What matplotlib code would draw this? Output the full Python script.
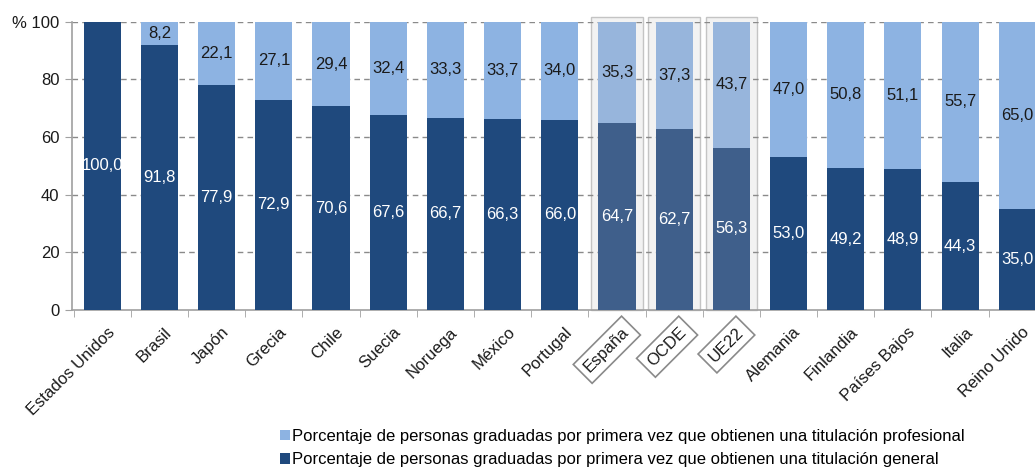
import matplotlib
matplotlib.use("Agg")
import matplotlib.pyplot as plt
from matplotlib.patches import Rectangle, Patch

plt.rcParams['font.family'] = ['Liberation Sans', 'DejaVu Sans']

categories = ["Estados Unidos", "Brasil", "Japón", "Grecia", "Chile", "Suecia", "Noruega",
              "México", "Portugal", "España", "OCDE", "UE22", "Alemania", "Finlandia",
              "Países Bajos", "Italia", "Reino Unido"]
general = [100.0, 91.8, 77.9, 72.9, 70.6, 67.6, 66.7, 66.3, 66.0, 64.7, 62.7, 56.3,
           53.0, 49.2, 48.9, 44.3, 35.0]
profesional = [0.0, 8.2, 22.1, 27.1, 29.4, 32.4, 33.3, 33.7, 34.0, 35.3, 37.3, 43.7,
               47.0, 50.8, 51.1, 55.7, 65.0]
highlight = ["España", "OCDE", "UE22"]
yticks = [0, 20, 40, 60, 80, 100]
yticklabels = ["0", "20", "40", "60", "80", "% 100"]
legend_labels = ["Porcentaje de personas graduadas por primera vez que obtienen una titulación profesional",
                 "Porcentaje de personas graduadas por primera vez que obtienen una titulación general"]

DARK = "#1f497d"
LIGHT = "#8db3e2"
DARK_H = "#3f5f8b"
LIGHT_H = "#97b5dc"

fig = plt.figure(figsize=(10.35, 4.70), dpi=100)
ax = fig.add_axes([72/1035, 1 - 310/470, 1 - 72/1035, (310 - 21.7)/470])

x = list(range(len(categories)))
w = 0.65

# highlight background boxes
for i, c in enumerate(categories):
    if c in highlight:
        ax.add_patch(Rectangle((i - 0.45, 0), 0.9, 101.8, facecolor="#f2f2f2",
                               edgecolor="#c4c4c4", linewidth=1.0, zorder=1, clip_on=False))

dark_cols = [DARK_H if c in highlight else DARK for c in categories]
light_cols = [LIGHT_H if c in highlight else LIGHT for c in categories]
ax.bar(x, general, width=w, color=dark_cols, zorder=3)
ax.bar(x, profesional, width=w, bottom=general, color=light_cols, zorder=3)

for i in x:
    g = general[i]
    p = profesional[i]
    ax.text(i, g / 2, f"{g:.1f}".replace(".", ","), ha="center", va="center",
            color="white", fontsize=12, zorder=5)
    if p > 0:
        ax.text(i, g + p / 2, f"{p:.1f}".replace(".", ","), ha="center", va="center",
                color="#1a1a1a", fontsize=12, zorder=5)

ax.set_ylim(0, 100)
ax.set_xlim(-0.53, len(categories) - 1 + 0.31)
ax.set_yticks(yticks)
ax.set_yticklabels(yticklabels, fontsize=12, color="#1a1a1a")
for yv in yticks[1:]:
    ax.axhline(yv, color="#8a8a8a", linestyle=(0, (4, 3)), linewidth=1.0, zorder=2)

ax.set_xticks(x)
ax.set_xticklabels([])
ax.tick_params(axis="x", length=0)
# tick marks between bars
ax.set_xticks([i + 0.5 for i in range(-1, len(categories) - 1)], minor=True)
ax.tick_params(axis="x", which="minor", length=5, color="#a0a0a0", direction="out")
ax.tick_params(axis="y", length=5, color="#a0a0a0", pad=4)

for i, c in enumerate(categories):
    kw = {}
    if c in highlight:
        kw["bbox"] = dict(boxstyle="square,pad=0.35", facecolor="white", edgecolor="#8a8a8a", linewidth=1.2)
    ax.text(i + 0.08, -5.0, c, rotation=45, ha="right", va="top", rotation_mode="anchor",
            fontsize=12, color="#1a1a1a", **kw)

for s in ["top", "right"]:
    ax.spines[s].set_visible(False)
ax.spines["left"].set_color("#a0a0a0")
ax.spines["bottom"].set_color("#a0a0a0")
ax.spines["left"].set_linewidth(1.2)
ax.spines["bottom"].set_linewidth(1.2)

handles = [Patch(facecolor=LIGHT, edgecolor="none"), Patch(facecolor=DARK, edgecolor="none")]
fig.legend(handles, legend_labels, loc="upper left", bbox_to_anchor=(280/1035, 1 - 429/470),
           frameon=False, fontsize=12, handlelength=0.6, handleheight=0.6,
           handletextpad=0.1, labelspacing=0.5, borderaxespad=0, borderpad=0)

fig.savefig("out.png", dpi=100)
